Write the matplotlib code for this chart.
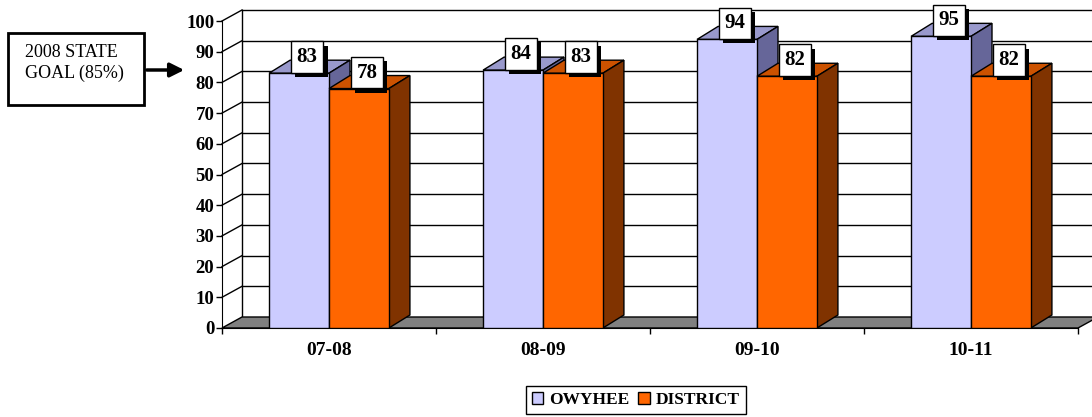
import matplotlib
matplotlib.use("Agg")
import matplotlib.pyplot as plt
from matplotlib.patches import Polygon, Rectangle, Patch, FancyArrowPatch
from matplotlib.lines import Line2D
import matplotlib.patheffects as pe

# ---- data ----
categories = ["07-08", "08-09", "09-10", "10-11"]
owyhee = [83, 84, 94, 95]
district = [78, 83, 82, 82]
series_names = ["OWYHEE", "DISTRICT"]
yticks = list(range(0, 101, 10))

plt.rcParams['font.family'] = ['Liberation Serif', 'DejaVu Serif']

W, H = 1092, 417
fig = plt.figure(figsize=(W / 100, H / 100), dpi=100)
left_px, right_px, bot_px, top_px = 222, 1078, 328, 21
ax = fig.add_axes([left_px / W, (H - bot_px) / H, (right_px - left_px) / W, (bot_px - top_px) / H])
n = len(categories)
ax.set_xlim(-0.5, n - 0.5)
ax.set_ylim(0, 100)

ux = n / (right_px - left_px)      # data units per pixel (x)
uy = 100 / (bot_px - top_px)       # data units per pixel (y)
wdx, wdy = 20 * ux, 11 * uy        # wall depth
bdx, bdy = 21 * ux, 13 * uy        # bar depth

x0, x1 = -0.5, n - 0.5
# floor
ax.add_patch(Polygon([(x0, 0), (x1, 0), (x1 + wdx, wdy), (x0 + wdx, wdy)],
                     closed=True, fc='#808080', ec='black', lw=1, clip_on=False, zorder=1.6))
# back wall gridlines & side wall diagonals
for v in yticks[1:]:
    ax.add_line(Line2D([x0 + wdx, x1 + wdx + 0.2], [v + wdy, v + wdy], color='black', lw=1,
                       clip_on=False, zorder=1))
    ax.add_line(Line2D([x0, x0 + wdx], [v, v + wdy], color='black', lw=1, clip_on=False, zorder=1))
ax.add_line(Line2D([x0 + wdx, x0 + wdx], [wdy, 100 + wdy], color='black', lw=1, clip_on=False, zorder=1))

# bars
bw = 0.28
colors = [('#CCCCFF', '#9999CC', '#666699'), ('#FF6600', '#CC5200', '#803300')]
for si, vals in enumerate([owyhee, district]):
    front, top, side = colors[si]
    for i, v in enumerate(vals):
        xl = i - bw + si * bw
        xr = xl + bw
        ax.add_patch(Polygon([(xl, v), (xr, v), (xr + bdx, v + bdy), (xl + bdx, v + bdy)],
                             closed=True, fc=top, ec='black', lw=1, zorder=3 + si))
        ax.add_patch(Polygon([(xr, 0), (xr + bdx, bdy), (xr + bdx, v + bdy), (xr, v)],
                             closed=True, fc=side, ec='black', lw=1, zorder=3 + si))
        ax.add_patch(Rectangle((xl, 0), bw, v, fc=front, ec='black', lw=1, zorder=3 + si))
        xc = xl + bw / 2
        t = ax.annotate(str(v), xy=(xc, v), xytext=(8, 16), textcoords='offset pixels',
                        ha='center', va='center', fontsize=15, fontweight='bold', color='black',
                        bbox=dict(boxstyle='square,pad=0.28', fc='white', ec='black', lw=1),
                        zorder=11, annotation_clip=False)
        t.get_bbox_patch().set_path_effects([
            pe.SimplePatchShadow(offset=(3, -3), shadow_rgbFace='black', alpha=1), pe.Normal()])

# axes styling
for s in ['top', 'right']:
    ax.spines[s].set_visible(False)
ax.spines['left'].set_zorder(2)
ax.spines['bottom'].set_zorder(2)
ax.set_facecolor('none')
ax.set_yticks(yticks)
ax.set_yticklabels([str(t) for t in yticks], fontsize=13.5, fontweight='bold')
ax.tick_params(axis='y', direction='out', length=4.5, width=1, pad=1)
ax.set_xticks([i - 0.5 for i in range(n + 1)])
ax.set_xticklabels([''] * (n + 1))
ax.set_xticks(range(n), minor=True)
ax.set_xticklabels(categories, minor=True, fontsize=14, fontweight='bold')
ax.tick_params(axis='x', which='major', direction='out', length=4, width=1)
ax.tick_params(axis='x', which='minor', length=0, pad=10)

# legend
handles = [Patch(fc=colors[0][0], ec='black', lw=1), Patch(fc=colors[1][0], ec='black', lw=1)]
leg = fig.legend(handles, series_names, loc='center', bbox_to_anchor=(636 / W, 1 - 400 / H),
                 ncol=2, frameon=True, fancybox=False, edgecolor='black', framealpha=1,
                 prop=dict(family='Liberation Serif', weight='bold', size=12.5),
                 handlelength=0.65, handleheight=0.65, handletextpad=0.35, columnspacing=0.5,
                 borderpad=0.35, borderaxespad=0)
leg.get_frame().set_linewidth(1)

# annotation box
fig.add_artist(Rectangle((8 / W, 1 - 105 / H), 136 / W, 72 / H, transform=fig.transFigure,
                         fc='white', ec='black', lw=2))
fig.text(25 / W, 1 - 63 / H, "2008 STATE\nGOAL (85%)", fontsize=13, ha='left', va='center',
         linespacing=1.3)
fig.add_artist(FancyArrowPatch((144 / W, 1 - 70 / H), (187 / W, 1 - 70 / H), transform=fig.transFigure,
                               arrowstyle='-|>,head_length=0.6,head_width=0.3', mutation_scale=14,
                               color='black', lw=2.5))

fig.savefig('out.png', dpi=100)
